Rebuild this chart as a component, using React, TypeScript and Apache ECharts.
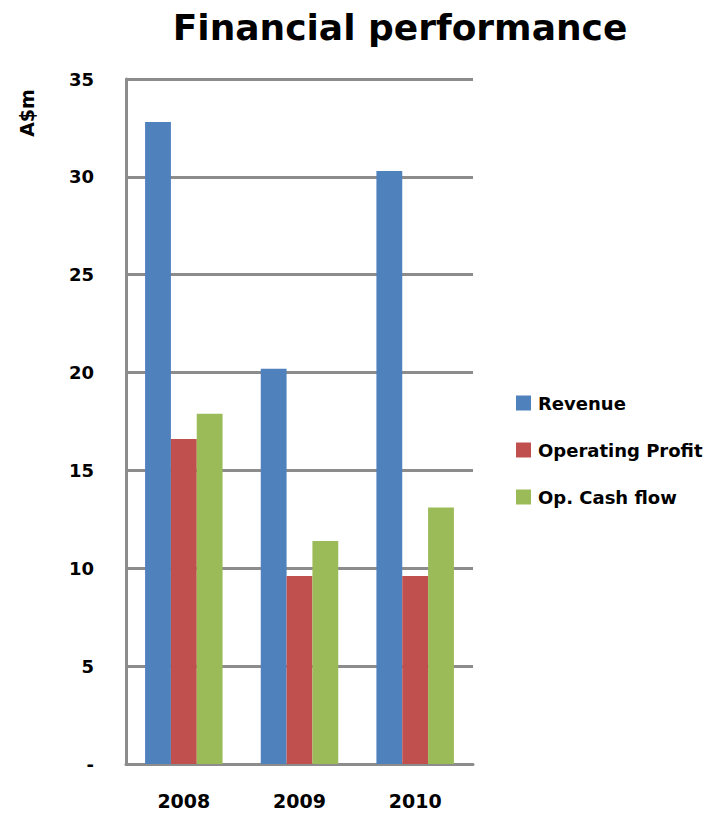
import React, { useEffect, useRef } from "react";
import * as echarts from "echarts";

const categories = ["2008", "2009", "2010"];
const revenue = [32.8, 20.2, 30.3];
const operatingProfit = [16.6, 9.6, 9.6];
const opCashFlow = [17.9, 11.4, 13.1];
const seriesNames = ["Revenue", "Operating Profit", "Op. Cash flow"];
const colors = ["#4F81BD", "#C0504D", "#9BBB59"];
const yAxisTitle = "A$m";
const chartTitle = "Financial performance";

const FONT = "DejaVu Sans";

export default function App() {
  const ref = useRef<HTMLDivElement>(null);
  useEffect(() => {
    if (!ref.current) return;
    const chart = echarts.init(ref.current, undefined, { renderer: "svg" });
    const data = [revenue, operatingProfit, opCashFlow];
    chart.setOption({
      animation: false,
      color: colors,
      title: {
        text: chartTitle,
        left: 395,
        top: 4,
        textAlign: "center",
        textStyle: { fontFamily: FONT, fontWeight: "bold", fontSize: 36, color: "#000" },
      },
      legend: {
        orient: "vertical",
        left: 516,
        top: 394,
        width: 199,
        itemWidth: 15,
        itemHeight: 15,
        itemGap: 29,
        icon: "rect",
        padding: 0,
        textStyle: {
          fontFamily: FONT,
          fontWeight: "bold",
          fontSize: 18,
          color: "#000",
          overflow: "none",
          padding: [0, 0, 0, 2],
        },
        data: seriesNames,
      },
      grid: { left: 126, right: 242, top: 79, bottom: 55, containLabel: false },
      xAxis: {
        type: "category",
        data: categories,
        axisLine: { lineStyle: { color: "#8c8c8c", width: 3 } },
        axisTick: { show: false },
        axisLabel: { fontFamily: FONT, fontWeight: "bold", fontSize: 19, color: "#000", margin: 27 },
      },
      yAxis: {
        type: "value",
        min: 0,
        max: 35,
        interval: 5,
        axisLine: { show: true, lineStyle: { color: "#8c8c8c", width: 3 } },
        axisTick: { show: false },
        splitLine: { lineStyle: { color: "#8c8c8c", width: 3 } },
        axisLabel: {
          fontFamily: FONT,
          fontWeight: "bold",
          fontSize: 18,
          color: "#000",
          margin: 32,
          formatter: (v: number) => (v === 0 ? "-" : String(v)),
        },
      },
      graphic: [
        {
          type: "text",
          x: 27,
          y: 113,
          rotation: Math.PI / 2,
          style: {
            text: yAxisTitle,
            fontFamily: FONT,
            fontWeight: "bold",
            fontSize: 19,
            fill: "#000",
            align: "center",
            verticalAlign: "middle",
          },
        },
      ],
      series: seriesNames.map((name, i) => ({
        name,
        type: "bar",
        data: data[i],
        barGap: "0%",
        barCategoryGap: "33%",
        itemStyle: { color: colors[i] },
      })),
    });
    return () => chart.dispose();
  }, []);
  return <div ref={ref} style={{ width: 715, height: 819, margin: -8 }} />;
}
